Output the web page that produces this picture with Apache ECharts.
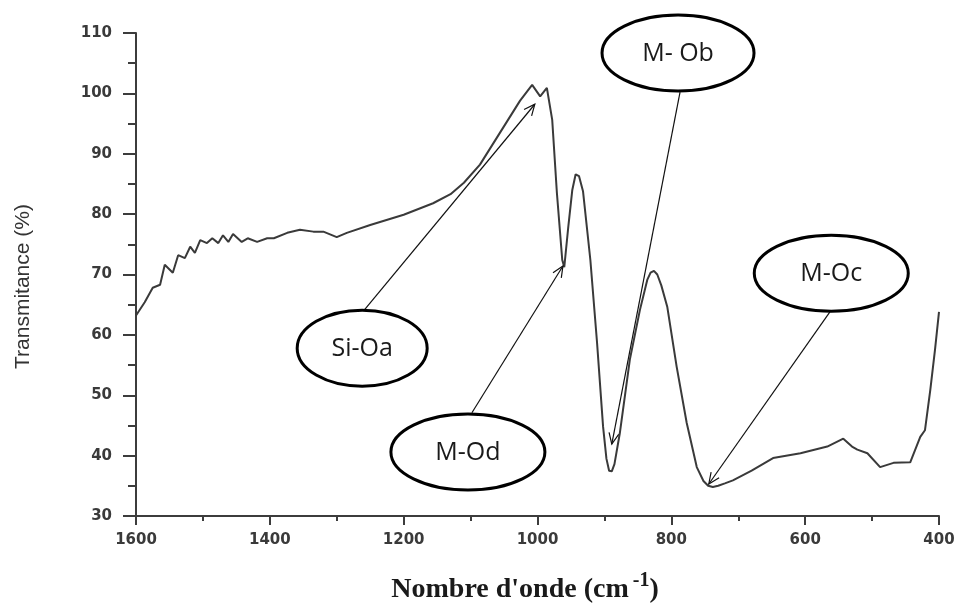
<!DOCTYPE html>
<html>
<head>
    <meta charset="utf-8">
    <title>IR spectrum</title>
    <script src="https://cdn.jsdelivr.net/npm/echarts@6/dist/echarts.min.js"></script>
    <style>
        html, body {
            width: 100%;
            height: 100%;
            margin: 0;
            background: #ffffff;
        }
        #main {
            width: 956px;
            height: 603px;
        }
    </style>
</head>
<body>
    <div id="main"></div>
    <script type="text/javascript">
        // wavenumber (cm-1) and transmittance (%)
        var wavenumbers = [1600, 1587, 1575, 1564, 1557, 1545, 1537, 1527, 1519, 1512, 1504, 1494, 1486, 1477, 1470,
            1462, 1455, 1442, 1433, 1419, 1404, 1394, 1374, 1355, 1335, 1320, 1300, 1285, 1250, 1200, 1156, 1130,
            1110, 1086, 1056, 1026, 1008, 996, 986, 978, 971, 963, 960, 954, 948, 943, 938, 932, 921, 911, 902,
            897, 893, 889, 885, 877, 862, 847, 836, 831, 826, 821, 815, 806, 792, 777, 762, 752, 745, 738, 730,
            720, 708, 680, 648, 607, 567, 543, 530, 522, 507, 488, 468, 443, 428, 421, 413, 406, 400];
        var transmittance = [63.2, 65.4, 67.8, 68.3, 71.6, 70.3, 73.2, 72.7, 74.6, 73.6, 75.7, 75.2, 76.0, 75.2, 76.5,
            75.4, 76.7, 75.4, 76.0, 75.4, 76.0, 76.0, 76.9, 77.4, 77.1, 77.1, 76.2, 76.9, 78.2, 79.9, 81.8, 83.3,
            85.2, 88.2, 93.5, 98.8, 101.4, 99.5, 100.9, 95.6, 83.5, 72.4, 71.2, 77.9, 84.0, 86.6, 86.3, 83.8, 72.4, 58.7, 44.8,
            39.5, 37.5, 37.4, 38.6, 43.7, 55.9, 64.1, 69.1, 70.3, 70.6, 70.0, 68.2, 64.6, 54.7, 45.4, 38.1, 35.8, 35.0, 34.8, 35.0,
            35.4, 35.9, 37.5, 39.6, 40.4, 41.5, 42.8, 41.5, 41.0, 40.4, 38.1, 38.8, 38.9, 43.1, 44.2, 50.9, 57.5, 63.8];

        // annotations: label, ellipse centre, line start, arrow tip (all in data coordinates)
        var noteLabels = ['Si-Oa', 'M-Od', 'M- Ob', 'M-Oc'];
        var noteCentres = [[1262, 57.8], [1104, 40.6], [790, 106.7], [561, 70.2]];
        var noteStarts = [[1259, 64.1], [1098, 47.1], [787, 100.2], [563, 63.8]];
        var noteTips = [[1004, 98.2], [962, 71.4], [889, 41.9], [744, 35.3]];
        var noteWidths = [65, 77, 76, 77];

        var seriesData = wavenumbers.map(function (w, i) {
            return [w, transmittance[i]];
        });

        var myChart = echarts.init(document.getElementById('main'), null, { renderer: 'canvas' });

        var axisColor = '#3c3c3c';
        var labelFont = {
            color: '#3a3a3a',
            fontFamily: 'DejaVu Sans',
            fontWeight: 'bold',
            fontSize: 15,
            formatter: function (v) { return String(v); }
        };

        var option = {
            animation: false,
            backgroundColor: '#ffffff',
            grid: {
                left: 136,
                right: 17,
                top: 33,
                bottom: 87,
                containLabel: false,
                outerBoundsMode: 'none'
            },
            xAxis: {
                type: 'value',
                inverse: true,
                min: 400,
                max: 1600,
                interval: 200,
                name: "{t|Nombre d'onde (cm}{s|-1}{t|)}",
                nameLocation: 'middle',
                nameGap: 55,
                nameTextStyle: {
                    padding: [0, 25, 0, 0],
                    rich: {
                        t: {
                            fontFamily: 'Liberation Serif',
                            fontWeight: 'bold',
                            fontSize: 28,
                            color: '#1a1a1a',
                            verticalAlign: 'bottom'
                        },
                        s: {
                            fontFamily: 'Liberation Serif',
                            fontWeight: 'bold',
                            fontSize: 20,
                            color: '#1a1a1a',
                            verticalAlign: 'top',
                            padding: [0, 0, 13, 4]
                        }
                    }
                },
                axisLine: { onZero: false, lineStyle: { color: axisColor, width: 2 } },
                axisTick: { show: true, length: 9, lineStyle: { color: axisColor, width: 2 } },
                minorTick: { show: true, splitNumber: 2, length: 5, lineStyle: { color: axisColor, width: 2 } },
                splitLine: { show: false },
                axisLabel: Object.assign({ margin: 17 }, labelFont)
            },
            yAxis: {
                type: 'value',
                min: 30,
                max: 110,
                interval: 10,
                name: 'Transmitance (%)',
                nameLocation: 'middle',
                nameGap: 102,
                nameTextStyle: {
                    fontFamily: 'Liberation Sans',
                    fontSize: 21,
                    color: '#333333',
                    padding: [0, 24, 0, 0]
                },
                axisLine: { show: true, onZero: false, lineStyle: { color: axisColor, width: 2 } },
                axisTick: { show: true, length: 13, lineStyle: { color: axisColor, width: 2 } },
                minorTick: { show: true, splitNumber: 2, length: 8, lineStyle: { color: axisColor, width: 2 } },
                splitLine: { show: false },
                axisLabel: Object.assign({ margin: 24 }, labelFont)
            },
            series: [
                {
                    name: 'Transmitance',
                    type: 'line',
                    data: seriesData,
                    symbol: 'none',
                    smooth: false,
                    lineStyle: { color: '#3a3a3a', width: 2 },
                    z: 2
                }
            ]
        };

        myChart.setOption(option);

        // ellipses with labels and arrows placed through the chart's own scales
        function arrowParts(p0, p1) {
            var dx = p1[0] - p0[0], dy = p1[1] - p0[1];
            var ang = Math.atan2(dy, dx);
            var len = 12, spread = 0.42;
            var a1 = [p1[0] - len * Math.cos(ang - spread), p1[1] - len * Math.sin(ang - spread)];
            var a2 = [p1[0] - len * Math.cos(ang + spread), p1[1] - len * Math.sin(ang + spread)];
            return [a1, a2];
        }

        var elements = [];
        noteLabels.forEach(function (label, i) {
            var c = myChart.convertToPixel({ seriesIndex: 0 }, noteCentres[i]);
            var s = myChart.convertToPixel({ seriesIndex: 0 }, noteStarts[i]);
            var t = myChart.convertToPixel({ seriesIndex: 0 }, noteTips[i]);
            var heads = arrowParts(s, t);
            elements.push({
                type: 'line',
                z: 10,
                shape: { x1: s[0], y1: s[1], x2: t[0], y2: t[1] },
                style: { stroke: '#111111', lineWidth: 1.2 }
            });
            elements.push({
                type: 'polyline',
                z: 10,
                shape: { points: [heads[0], t, heads[1]] },
                style: { stroke: '#111111', lineWidth: 1.2, fill: null }
            });
            elements.push({
                type: 'ellipse',
                z: 11,
                shape: { cx: c[0], cy: c[1], rx: noteWidths[i], ry: 38 },
                style: { fill: '#ffffff', stroke: '#000000', lineWidth: 3 }
            });
            elements.push({
                type: 'text',
                z: 12,
                style: {
                    text: label,
                    x: c[0],
                    y: c[1] + 1,
                    align: 'center',
                    verticalAlign: 'middle',
                    fill: '#1a1a1a',
                    font: '25px "Open Sans"'
                }
            });
        });

        myChart.setOption({ graphic: elements });
    </script>
</body>
</html>
